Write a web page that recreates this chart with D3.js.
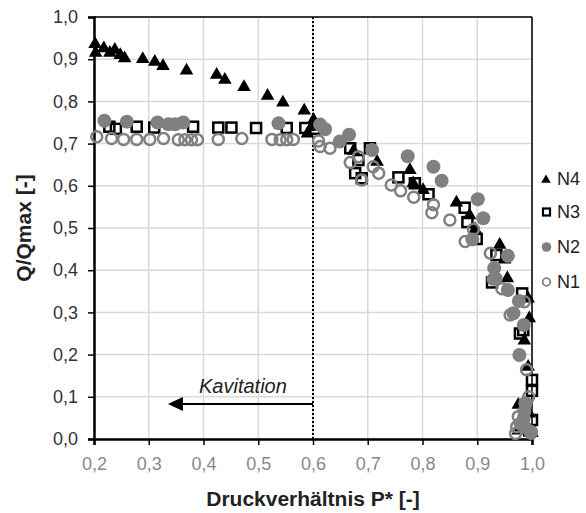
<!DOCTYPE html>
<html><head><meta charset="utf-8">
<script src="https://cdn.jsdelivr.net/npm/d3@7/dist/d3.min.js"></script>
<style>body{margin:0;background:#fff}svg{display:block;font-family:"Liberation Sans",Arial,sans-serif}</style>
</head><body><svg id="c" width="586" height="513"></svg>
<script>
const xTicks=[0.2,0.3,0.4,0.5,0.6,0.7,0.8,0.9,1.0];
const yTicks=[0,0.1,0.2,0.3,0.4,0.5,0.6,0.7,0.8,0.9,1.0];
const seriesNames=["N4","N3","N2","N1"];
const n4=[[0.202,0.936],[0.203,0.915],[0.218,0.926],[0.229,0.915],[0.238,0.922],[0.248,0.910],[0.256,0.902],[0.289,0.900],[0.311,0.894],[0.326,0.884],[0.369,0.873],[0.424,0.863],[0.439,0.851],[0.474,0.834],[0.517,0.813],[0.545,0.797],[0.584,0.778],[0.601,0.756],[0.598,0.740],[0.590,0.724],[0.674,0.683],[0.717,0.657],[0.777,0.637],[0.783,0.606],[0.801,0.590],[0.862,0.560],[0.886,0.530],[0.896,0.497],[0.941,0.460],[0.950,0.425],[0.955,0.381],[0.993,0.333],[0.995,0.286],[0.986,0.233],[0.993,0.171],[0.975,0.081],[0.995,0.060],[1.0,0.014],[0.975,0.020]];
const n3=[[0.228,0.740],[0.240,0.735],[0.278,0.740],[0.310,0.738],[0.381,0.740],[0.427,0.738],[0.451,0.738],[0.496,0.737],[0.552,0.737],[0.586,0.737],[0.603,0.735],[0.668,0.689],[0.683,0.661],[0.704,0.689],[0.677,0.630],[0.689,0.618],[0.756,0.620],[0.786,0.606],[0.811,0.580],[0.877,0.548],[0.882,0.514],[0.899,0.474],[0.935,0.436],[0.927,0.371],[0.982,0.345],[0.984,0.258],[0.978,0.250],[1.0,0.140],[1.0,0.114],[1.0,0.045],[0.995,0.020]];
const n2=[[0.219,0.754],[0.260,0.752],[0.316,0.750],[0.336,0.746],[0.348,0.746],[0.363,0.750],[0.537,0.748],[0.613,0.745],[0.622,0.734],[0.649,0.705],[0.666,0.721],[0.708,0.685],[0.773,0.670],[0.820,0.645],[0.835,0.612],[0.901,0.568],[0.911,0.523],[0.891,0.473],[0.956,0.434],[0.931,0.405],[0.934,0.380],[0.956,0.353],[0.976,0.327],[0.966,0.298],[0.985,0.270],[0.977,0.199],[0.988,0.085],[0.986,0.065],[0.985,0.050],[0.979,0.037],[0.988,0.027],[0.998,0.014]];
const n1=[[0.205,0.716],[0.232,0.712],[0.254,0.710],[0.278,0.710],[0.302,0.710],[0.327,0.712],[0.354,0.709],[0.366,0.709],[0.378,0.709],[0.389,0.709],[0.427,0.710],[0.470,0.712],[0.525,0.710],[0.540,0.709],[0.552,0.709],[0.564,0.710],[0.610,0.706],[0.613,0.693],[0.631,0.689],[0.668,0.655],[0.683,0.669],[0.689,0.614],[0.710,0.645],[0.720,0.630],[0.743,0.602],[0.760,0.588],[0.784,0.573],[0.820,0.555],[0.817,0.536],[0.850,0.519],[0.878,0.468],[0.893,0.497],[0.924,0.440],[0.929,0.379],[0.945,0.356],[0.986,0.325],[0.960,0.294],[0.990,0.164],[0.994,0.100],[0.975,0.053],[0.972,0.029],[0.970,0.013],[0.999,0.017]];
const kavX=0.335, kavY=0.083, limitX=0.6;

const svg=d3.select("#c");
const L=94,T=17,W=438,H=422;
const x=d3.scaleLinear().domain([0.2,1.0]).range([L,L+W]);
const y=d3.scaleLinear().domain([0,1]).range([T+H,T]);
const fmt=d=>d3.format(".1f")(d).replace(".",",");

// grid
svg.append("g").selectAll("line").data(xTicks).join("line")
  .attr("x1",d=>x(d)).attr("x2",d=>x(d)).attr("y1",T).attr("y2",T+H)
  .attr("stroke","#d9d9d9").attr("stroke-width",1.5);
svg.append("g").selectAll("line").data(yTicks).join("line")
  .attr("x1",L).attr("x2",L+W).attr("y1",d=>y(d)).attr("y2",d=>y(d))
  .attr("stroke","#d9d9d9").attr("stroke-width",1.5);
// frame top/right
svg.append("line").attr("x1",L).attr("x2",L+W).attr("y1",T).attr("y2",T).attr("stroke","#000").attr("stroke-width",1.5);
svg.append("line").attr("x1",L+W).attr("x2",L+W).attr("y1",T).attr("y2",T+H).attr("stroke","#000").attr("stroke-width",1.5);

// axes
const ya=svg.append("g").attr("transform",`translate(${L},0)`)
  .call(d3.axisLeft(y).tickValues(yTicks).tickFormat(fmt).tickSize(6).tickPadding(10));
ya.select(".domain").attr("stroke","#000").attr("stroke-width",2.5);
ya.selectAll(".tick line").attr("stroke","#000").attr("stroke-width",1.5);
ya.selectAll(".tick text").attr("font-size",18).attr("fill","#333").attr("font-family","Liberation Sans, Arial, sans-serif");
const xa=svg.append("g").attr("transform",`translate(0,${T+H})`)
  .call(d3.axisBottom(x).tickValues(xTicks).tickFormat(fmt).tickSize(6).tickPadding(12));
xa.select(".domain").attr("stroke","#000").attr("stroke-width",2.5);
xa.selectAll(".tick line").attr("stroke","#000").attr("stroke-width",1.5);
xa.selectAll(".tick text").attr("font-size",18).attr("fill","#888").attr("font-family","Liberation Sans, Arial, sans-serif");

// dotted line
svg.append("line").attr("x1",x(limitX)).attr("x2",x(limitX)).attr("y1",T).attr("y2",T+H)
  .attr("stroke","#000").attr("stroke-width",2).attr("stroke-dasharray","2,2");
// arrow
svg.append("line").attr("x1",x(limitX)).attr("x2",x(kavX)+14).attr("y1",y(kavY)).attr("y2",y(kavY))
  .attr("stroke","#000").attr("stroke-width",2);
svg.append("path").attr("d",`M${x(kavX)},${y(kavY)} L${x(kavX)+15},${y(kavY)-7} L${x(kavX)+15},${y(kavY)+7} Z`).attr("fill","#000");
svg.append("text").attr("x",199).attr("y",393).attr("font-size",20).attr("font-style","italic").attr("fill","#222").text("Kavitation");

// markers
const tri=d3.symbol().type(d3.symbolTriangle).size(80);
function draw(data,kind,g){
  if(kind==="sq") g.selectAll("rect").data(data).join("rect")
    .attr("x",d=>x(d[0])-5).attr("y",d=>y(d[1])-5).attr("width",10).attr("height",10)
    .attr("fill","none").attr("stroke","#000").attr("stroke-width",2.5);
  if(kind==="tri") g.selectAll("path").data(data).join("path").attr("d",tri)
    .attr("transform",d=>`translate(${x(d[0])},${y(d[1])})`).attr("fill","#000");
  if(kind==="fc") g.selectAll("circle").data(data).join("circle")
    .attr("cx",d=>x(d[0])).attr("cy",d=>y(d[1])).attr("r",7).attr("fill","#808080");
  if(kind==="oc") g.selectAll("circle").data(data).join("circle")
    .attr("cx",d=>x(d[0])).attr("cy",d=>y(d[1])).attr("r",5.5).attr("fill","none").attr("stroke","#808080").attr("stroke-width",2.5);
}
draw(n3,"sq",svg.append("g"));
draw(n4,"tri",svg.append("g"));
draw(n2,"fc",svg.append("g"));
draw(n1,"oc",svg.append("g"));

// titles
svg.append("text").attr("x",L+W/2).attr("y",506).attr("text-anchor","middle").attr("font-size",21).attr("font-weight","bold").attr("fill","#222").text("Druckverhältnis P* [-]");
svg.append("text").attr("transform",`translate(31,${T+H/2}) rotate(-90)`).attr("text-anchor","middle").attr("font-size",21).attr("font-weight","bold").attr("fill","#222").text("Q/Qmax [-]");

// legend
const lg=svg.append("g");
const ly=[179,212,247,282];
const kinds=["tri","sq","fc","oc"];
seriesNames.forEach((n,i)=>{
  const cy=ly[i];
  if(kinds[i]==="tri") lg.append("path").attr("d",d3.symbol().type(d3.symbolTriangle).size(40)()).attr("transform",`translate(546,${cy+1})`).attr("fill","#000");
  if(kinds[i]==="sq") lg.append("rect").attr("x",543).attr("y",cy-3.5).attr("width",7).attr("height",7).attr("fill","none").attr("stroke","#000").attr("stroke-width",2.2);
  if(kinds[i]==="fc") lg.append("circle").attr("cx",546.5).attr("cy",cy).attr("r",4.8).attr("fill","#808080");
  if(kinds[i]==="oc") lg.append("circle").attr("cx",546.5).attr("cy",cy).attr("r",3.8).attr("fill","none").attr("stroke","#808080").attr("stroke-width",1.8);
  lg.append("text").attr("x",557).attr("y",cy).attr("dy","0.36em").attr("font-size",18).attr("fill","#222").text(n);
});
</script></body></html>
